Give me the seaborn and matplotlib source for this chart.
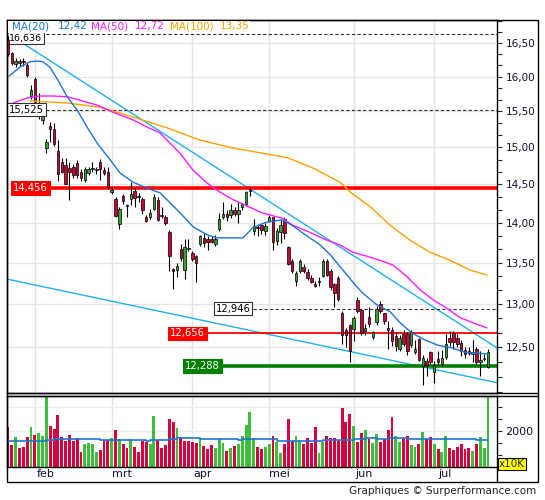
import numpy as np
import pandas as pd
import seaborn as sns
import matplotlib.pyplot as plt
from matplotlib.ticker import FixedLocator, FuncFormatter, NullFormatter
from matplotlib.lines import Line2D
from matplotlib.patches import Rectangle
from matplotlib.transforms import offset_copy

# cours journaliers
opens = [
    16.55, 16.35, 16.18, 16.23, 16.23, 16.17, 15.72, 15.97, 15.45, 15.38,
    14.99, 15.30, 15.26, 14.95, 14.80, 14.76, 14.72, 14.73, 14.79, 14.66,
    14.56, 14.65, 14.70, 14.69, 14.80, 14.69, 14.66, 14.40, 14.31, 13.98,
    14.35, 14.23, 14.31, 14.42, 14.35, 14.31, 14.08, 14.07, 14.18, 14.30,
    14.10, 14.07, 13.89, 13.42, 13.41, 13.67, 13.41, 13.68, 13.62, 13.58,
    13.73, 13.81, 13.80, 13.80, 13.73, 13.92, 14.08, 14.12, 14.10, 14.17,
    14.12, 14.20, 14.24, 14.42, 13.90, 13.95, 13.97, 13.90, 14.03, 14.07,
    13.77, 13.88, 14.05, 13.70, 13.52, 13.28, 13.40, 13.45, 13.39, 13.31,
    13.24, 13.26, 13.34, 13.52, 13.40, 13.24, 13.31, 12.89, 12.70, 12.75,
    12.71, 13.05, 12.93, 12.68, 12.85, 12.62, 12.79, 13.00, 12.89, 12.72,
    12.70, 12.63, 12.48, 12.65, 12.65, 12.52, 12.44, 12.59, 12.28, 12.34,
    12.44, 12.22, 12.36, 12.31, 12.39, 12.60, 12.66, 12.60, 12.55, 12.47,
    12.46, 12.42, 12.48, 12.33, 12.36, 12.27]
highs = [
    16.61, 16.37, 16.27, 16.26, 16.28, 16.20, 15.88, 16.00, 15.77, 15.52,
    15.12, 15.35, 15.34, 15.10, 14.86, 14.86, 14.80, 14.77, 14.83, 14.70,
    14.74, 14.73, 14.80, 14.73, 14.84, 14.74, 14.74, 14.47, 14.33, 14.20,
    14.38, 14.25, 14.53, 14.45, 14.39, 14.33, 14.10, 14.18, 14.38, 14.33,
    14.20, 14.10, 13.91, 13.43, 13.50, 13.73, 13.80, 13.79, 13.65, 13.60,
    13.85, 13.87, 13.84, 13.84, 13.85, 14.13, 14.27, 14.17, 14.25, 14.20,
    14.27, 14.26, 14.42, 14.45, 14.05, 13.98, 14.00, 14.00, 14.10, 14.08,
    13.93, 14.04, 14.07, 13.71, 13.55, 13.40, 13.55, 13.48, 13.42, 13.35,
    13.28, 13.32, 13.55, 13.55, 13.42, 13.25, 13.34, 12.92, 12.72, 12.77,
    12.86, 13.08, 12.94, 12.77, 12.97, 12.68, 12.98, 13.04, 12.90, 12.80,
    12.73, 12.67, 12.64, 12.69, 12.67, 12.70, 12.58, 12.60, 12.41, 12.38,
    12.46, 12.34, 12.45, 12.47, 12.65, 12.68, 12.68, 12.65, 12.58, 12.50,
    12.50, 12.58, 12.50, 12.46, 12.42, 12.48]
lows = [
    16.30, 16.17, 16.14, 16.16, 16.15, 15.99, 15.68, 15.60, 15.40, 15.33,
    14.92, 15.07, 15.02, 14.55, 14.65, 14.50, 14.30, 14.58, 14.58, 14.55,
    14.53, 14.62, 14.66, 14.64, 14.56, 14.63, 14.44, 14.37, 14.07, 13.92,
    14.25, 14.08, 14.23, 14.20, 14.27, 14.12, 14.01, 14.05, 14.16, 14.02,
    14.06, 13.97, 13.40, 13.18, 13.33, 13.52, 13.30, 13.65, 13.52, 13.27,
    13.71, 13.70, 13.66, 13.74, 13.71, 13.90, 14.05, 14.02, 14.06, 14.09,
    14.00, 14.17, 14.22, 14.35, 13.85, 13.84, 13.86, 13.85, 14.01, 13.66,
    13.72, 13.75, 13.80, 13.47, 13.38, 13.22, 13.37, 13.37, 13.29, 13.25,
    13.20, 13.22, 13.32, 13.34, 13.17, 12.96, 13.04, 12.54, 12.50, 12.33,
    12.57, 12.90, 12.64, 12.64, 12.73, 12.59, 12.75, 12.90, 12.77, 12.48,
    12.51, 12.46, 12.45, 12.51, 12.41, 12.50, 12.42, 12.34, 12.07, 12.17,
    12.31, 12.10, 12.30, 12.28, 12.36, 12.51, 12.48, 12.50, 12.40, 12.38,
    12.41, 12.33, 12.30, 12.17, 12.34, 12.26]
closes = [
    16.33, 16.20, 16.23, 16.20, 16.21, 16.03, 15.80, 15.64, 15.60, 15.48,
    15.07, 15.26, 15.05, 14.64, 14.67, 14.50, 14.66, 14.62, 14.62, 14.58,
    14.70, 14.71, 14.72, 14.71, 14.70, 14.65, 14.47, 14.43, 14.09, 14.18,
    14.28, 14.22, 14.37, 14.32, 14.33, 14.16, 14.03, 14.13, 14.34, 14.04,
    14.09, 14.00, 13.58, 13.40, 13.46, 13.56, 13.70, 13.67, 13.54, 13.50,
    13.84, 13.75, 13.76, 13.76, 13.80, 14.05, 14.12, 14.07, 14.17, 14.12,
    14.17, 14.25, 14.40, 14.43, 13.96, 13.93, 13.91, 13.96, 14.08, 13.76,
    13.90, 13.97, 13.87, 13.49, 13.40, 13.38, 13.52, 13.40, 13.31, 13.27,
    13.22, 13.28, 13.52, 13.35, 13.20, 13.13, 13.06, 12.64, 12.64, 12.46,
    12.83, 12.92, 12.66, 12.72, 12.76, 12.67, 12.94, 12.92, 12.80, 12.70,
    12.57, 12.51, 12.60, 12.54, 12.45, 12.67, 12.48, 12.35, 12.38, 12.30,
    12.33, 12.30, 12.33, 12.37, 12.53, 12.56, 12.56, 12.54, 12.45, 12.42,
    12.43, 12.44, 12.33, 12.35, 12.37, 12.44]

# volumes (x10K) et sens de la barre
volumes = [
    2167, 1417, 1750, 1292, 1333, 1750, 2167, 1833, 1917, 1792,
    3417, 2208, 2083, 2667, 1750, 1583, 1833, 1583, 1708, 1125,
    1458, 1500, 1458, 1125, 1208, 1625, 1625, 1708, 2042, 1667,
    1458, 1292, 1667, 1333, 1125, 1583, 1542, 1458, 2625, 1625,
    1292, 1417, 2500, 2375, 2125, 1750, 1583, 1583, 1542, 1500,
    1667, 1375, 1250, 1417, 1292, 1667, 1500, 1167, 1292, 1375,
    1458, 1792, 2250, 2800, 1708, 1333, 1250, 1333, 1458, 1792,
    1542, 1083, 1458, 2500, 1583, 1792, 1583, 1458, 1708, 1500,
    2167, 1083, 1542, 1792, 1708, 1708, 1625, 2958, 2375, 2708,
    2208, 1542, 1917, 2042, 1667, 1500, 1875, 1542, 1667, 2042,
    2583, 1792, 1542, 1667, 1792, 1417, 1333, 1458, 1958, 1667,
    1750, 1458, 1250, 1125, 1792, 1292, 1208, 1333, 1458, 1250,
    1292, 1167, 1458, 1750, 1292, 3458]
vol_dir = list(
    "RRGRRRGRGG" "GRRRRRRRRR" "GGGGRRRGRG" "RRGRRRRGGR" "RRRRGRRRRR"
    "GRRRGGGRGR" "GGGGGRRGGR" "GGRRRGGRRR" "RGGRRRRRRR" "GRRGRGGRRR"
    "RGGRRGGRGR" "RGRGGRRRRR" "RGRGGG")
vma_idx = [0, 10, 12, 24, 36, 37, 42, 44, 50, 60, 61, 70, 82, 88, 90, 93, 96, 99, 104, 122, 125]
vma_val = [1570, 1610, 1650, 1625, 1570, 1625, 1667, 1696, 1654, 1625, 1667,
           1571, 1612, 1640, 1654, 1696, 1654, 1696, 1654, 1625, 1640]

# moyennes mobiles
ma20_idx = [0.3, 3.1, 5.7, 7.8, 9.1, 10.9, 13.0, 15.4, 18.0, 20.6, 23.2, 26.6, 29.2, 32.6,
            36.2, 39.6, 41.4, 44.8, 48.2, 51.8, 54.4, 61.2, 63.8, 67.4, 71.4, 74.0, 76.8,
            81.3, 83.9, 86.5, 90.4, 92.4, 96.1, 99.5, 102.1, 105.2, 108.6, 112.0, 115.6,
            119.0, 122.4, 125.0]
ma20_val = [16.01, 16.14, 16.22, 16.23, 16.22, 16.14, 15.95, 15.71, 15.52, 15.28, 15.06,
            14.83, 14.65, 14.53, 14.45, 14.39, 14.30, 14.13, 13.95, 13.85, 13.81, 13.81,
            13.94, 14.01, 14.04, 13.97, 13.87, 13.72, 13.60, 13.45, 13.23, 13.13, 12.99,
            12.91, 12.78, 12.66, 12.58, 12.52, 12.49, 12.44, 12.43, 12.42]
ma50_idx = [1.3, 4.9, 8.3, 11.7, 15.4, 18.75, 23.2, 27.3, 32.6, 36.2, 39.6, 41.4, 44.8,
            48.2, 51.8, 55.2, 58.6, 62.2, 66.1, 71.4, 74.2, 78.6, 83.1, 86.5, 89.8, 93.5,
            96.9, 100.3, 103.9, 107.3, 110.7, 114.3, 117.7, 121.1, 124.7]
ma50_val = [15.62, 15.69, 15.72, 15.72, 15.71, 15.66, 15.59, 15.49, 15.38, 15.28, 15.20,
            15.10, 14.92, 14.69, 14.52, 14.40, 14.30, 14.22, 14.13, 14.06, 13.97, 13.88,
            13.78, 13.72, 13.63, 13.58, 13.53, 13.47, 13.33, 13.17, 13.05, 12.95, 12.84,
            12.78, 12.72]
ma100_idx = [5.8, 15.4, 24.0, 32.6, 41.4, 50.0, 58.6, 67.4, 72.7, 79.4, 86.5, 89.1, 94.3,
             99.5, 104.7, 109.9, 115.1, 120.3, 124.7]
ma100_val = [15.65, 15.62, 15.56, 15.42, 15.27, 15.10, 14.99, 14.91, 14.86, 14.72, 14.53,
             14.40, 14.21, 13.97, 13.78, 13.63, 13.53, 13.41, 13.35]

# droites de tendance (extrémités)
trend_hi_x = [-0.26, 127.34]
trend_hi_y = [16.65, 12.49]
trend_lo_x = [-0.26, 127.34]
trend_lo_y = [13.30, 12.10]

# niveaux horizontaux
levels = [16.636, 15.525, 14.456, 12.946, 12.656, 12.288]
level_from = [-0.26, -0.26, 0.8, 53.6, 41.7, 45.6]
level_kind = ['dash', 'dash', 'red', 'dash', 'red_thin', 'green']

months = ['feb', 'mrt', 'apr', 'mei', 'jun', 'jul']
month_start = [7, 27, 48, 68, 90, 111]

UP, DOWN = '#3cbf3c', '#d8003e'
C20, C50, C100, CTR = '#1c74d4', '#ff1cff', '#ffa000', '#1eb0f0'
W, H = 545, 500


def fx(px):
    return px / W


def fy(py):
    return 1 - py / H


sns.set_style('white')
plt.rcParams['font.family'] = ['DejaVu Sans']

fig = plt.figure(figsize=(5.45, 5.0), dpi=100)
ax = fig.add_axes([fx(7), fy(393), fx(497) - fx(7), fy(20) - fy(393)])
axv = fig.add_axes([fx(7), fy(467), fx(497) - fx(7), fy(395.7) - fy(467)], sharex=ax)

o, h, l, c = map(np.array, (opens, highs, lows, closes))
idx = np.arange(len(c))
up = c >= o

ax.set_yscale('log')
for m in month_start:
    ax.axvline(m, color='#e4e4e4', lw=1, zorder=0)
    axv.axvline(m, color='#e4e4e4', lw=1, zorder=0)

# droites de tendance
ax.plot(trend_hi_x, trend_hi_y, color=CTR, lw=1, zorder=2)
ax.plot(trend_lo_x, trend_lo_y, color=CTR, lw=1, zorder=2)

# niveaux + étiquettes
styles = {
    'dash': dict(color='#333333', lw=0.8, ls=(0, (3, 2))),
    'red': dict(color='#ff0000', lw=2.6, ls='-'),
    'red_thin': dict(color='#ff0000', lw=1.3, ls='-'),
    'green': dict(color='#008000', lw=2.6, ls='-'),
}
boxes = {
    'dash': ('white', '#333333', 'black'),
    'red': ('#ff0000', '#ff0000', 'white'),
    'red_thin': ('#ff0000', '#ff0000', 'white'),
    'green': ('#008000', '#008000', 'white'),
}
for k, (lv, x0, kind) in enumerate(zip(levels, level_from, level_kind)):
    ax.hlines(lv, x0, 127.34, zorder=2, **styles[kind])
    fc, ec, tc = boxes[kind]
    # l'étiquette du plus haut niveau passe juste sous la légende
    tr = offset_copy(ax.transData, fig=fig, y=-3.0 if k == 0 else 0, units='points')
    ax.text(x0 + 0.5, lv, f'{lv:.3f}'.replace('.', ','), ha='left', va='center',
            fontsize=6.8 if k == 0 else 7.2, color=tc, zorder=2.5 if k == 0 else 8,
            transform=tr,
            bbox=dict(boxstyle='square,pad=0.18', fc=fc, ec=ec, lw=0.8))

# chandeliers
ax.vlines(idx, l, h, color='black', lw=0.8, zorder=3)
body_lo = np.minimum(o, c)
body_h = np.maximum(np.abs(c - o), 0.012)
ax.bar(idx, body_h, bottom=body_lo, width=0.64, color=np.where(up, '#2fa52f', '#cc0033'),
       edgecolor='black', linewidth=0.5, zorder=4)

# moyennes mobiles
sns.lineplot(x=ma100_idx, y=ma100_val, ax=ax, color=C100, linewidth=1, legend=False, zorder=5)
sns.lineplot(x=ma50_idx, y=ma50_val, ax=ax, color=C50, linewidth=1, legend=False, zorder=5)
sns.lineplot(x=ma20_idx, y=ma20_val, ax=ax, color=C20, linewidth=1, legend=False, zorder=5)

ax.set_xlim(-0.26, 127.34)
ax.set_ylim(11.986, 16.85)
major = [12.5 + 0.5 * k for k in range(9)]
minor = [v for v in np.arange(12.0, 16.9, 0.5 / 3) if min(abs(v - m) for m in major) > 0.01]
ax.yaxis.set_major_locator(FixedLocator(major))
ax.yaxis.set_minor_locator(FixedLocator(minor))
ax.yaxis.set_major_formatter(FuncFormatter(lambda v, p: f'{v:.2f}'.replace('.', ',')))
ax.yaxis.set_minor_formatter(NullFormatter())
ax.yaxis.tick_right()
ax.tick_params(axis='y', which='major', direction='out', length=3.5, width=0.8,
               labelsize=7.5, pad=2.5, labelcolor='#101030')
ax.tick_params(axis='y', which='minor', direction='out', length=3.5, width=0.8)
ax.tick_params(axis='x', length=0, labelbottom=False)
ax.yaxis.grid(True, which='major', color='#e6e6e6', lw=1)
ax.set_axisbelow(True)
ax.set_xlabel('')
ax.set_ylabel('')
for s in ax.spines.values():
    s.set_color('black')
    s.set_linewidth(1)

# volumes
axv.bar(idx, volumes, width=0.75, color=[UP if d == 'G' else DOWN for d in vol_dir],
        linewidth=0, zorder=2)
sns.lineplot(x=vma_idx, y=vma_val, ax=axv, color=C20, linewidth=1.2,
             drawstyle='steps-post', legend=False, zorder=3)
axv.set_ylim(500, 3471)
axv.yaxis.set_major_locator(FixedLocator([1000, 1500, 2000, 2500, 3000]))
axv.yaxis.set_major_formatter(FuncFormatter(lambda v, p: '2000' if v == 2000 else ''))
axv.yaxis.tick_right()
axv.tick_params(axis='y', direction='out', length=3.5, width=0.8, labelsize=8,
                pad=2.5, labelcolor='#101030')
for yv in (2000, 3000):
    axv.axhline(yv, color='#ececec', lw=1, zorder=0)
axv.set_xticks([m + 2.7 for m in month_start])
axv.set_xticklabels(months)
axv.tick_params(axis='x', length=0, labelsize=8, pad=1.5, labelcolor='#101030')
axv.set_xlabel('')
axv.set_ylabel('')
for s in axv.spines.values():
    s.set_color('black')
    s.set_linewidth(1)

# cadre et séparateurs
fig.patches.append(Rectangle((fx(7), fy(482)), fx(538) - fx(7), fy(19.5) - fy(482),
                             transform=fig.transFigure, fill=False, ec='black', lw=1, zorder=6))
for (x0, y0, x1, y1) in [(7, 393, 538, 393), (7, 395.7, 538, 395.7), (497, 467, 497, 482)]:
    fig.lines.append(Line2D([fx(x0), fx(x1)], [fy(y0), fy(y1)], transform=fig.transFigure,
                            color='black', lw=1))

# légende
fig.patches.append(Rectangle((fx(8), fy(32.5)), fx(250) - fx(8), fy(20.5) - fy(32.5),
                             transform=fig.transFigure, fc='white', ec='none', zorder=7))
legend_items = [('MA(20)', 12, C20), (f'{ma20_val[-1]:.2f}'.replace('.', ','), 58, C20),
                ('MA(50)', 91, C50), (f'{ma50_val[-1]:.2f}'.replace('.', ','), 135, C50),
                ('MA(100)', 170, C100), (f'{ma100_val[-1]:.2f}'.replace('.', ','), 220, C100)]
for txt, xp, col in legend_items:
    fig.text(fx(xp), fy(26.5), txt, color=col, fontsize=7.5, ha='left', va='center', zorder=8)

fig.text(fx(499), fy(464), 'x10K', fontsize=7.5, ha='left', va='center', zorder=8,
         bbox=dict(boxstyle='square,pad=0.12', fc='#ffff00', ec='black', lw=0.8))
fig.text(fx(536), fy(491), 'Graphiques © Surperformance.com', ha='right', va='center',
         fontsize=7.5, color='#222222')

fig.savefig('out.png', dpi=100)
